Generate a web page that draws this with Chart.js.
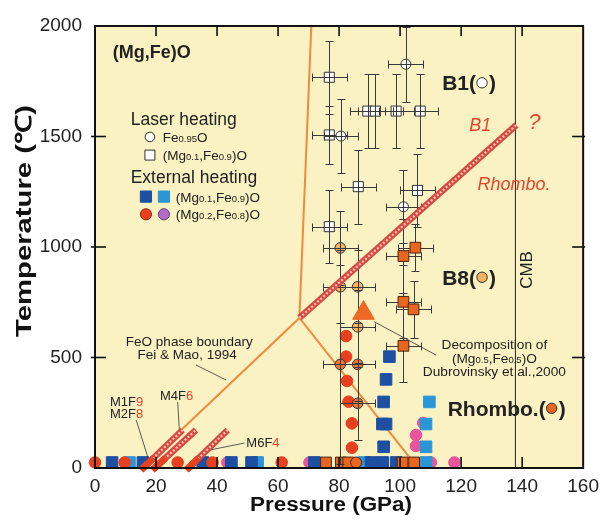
<!DOCTYPE html>
<html><head><meta charset="utf-8">
<script src="https://cdn.jsdelivr.net/npm/chart.js@4.4.0/dist/chart.umd.min.js"></script>
<style>html,body{margin:0;padding:0;background:#fff}</style>
</head><body>
<canvas id="c" width="606" height="523"></canvas>
<script>
const FONT = '"Liberation Sans", Arial, Helvetica, sans-serif';

// ---------------- data ----------------
const pressureTicks = [0, 20, 40, 60, 80, 100, 120, 140, 160];
const temperatureTicks = [0, 500, 1000, 1500, 2000];

// Laser heating, Fe0.95O (B1, open circles)
const feoLaserP = [101.9, 80.6, 101.1];
const feoLaserT = [1827, 1502, 1182];
const feoLaserErrP = [5.7, 5.5, 5.7];
const feoLaserErrT = [170, 168, 166];

// Laser heating, (Mg0.1,Fe0.9)O (open squares)
const mgfeLaserP = [76.8, 76.8, 89.4, 91.9, 98.7, 106.6, 86.3, 105.7, 76.8];
const mgfeLaserT = [1768, 1507, 1615, 1615, 1615, 1615, 1273, 1256, 1092];
const mgfeLaserErrP = [5.7, 5.7, 5.7, 5.7, 5.7, 5.7, 5.7, 5.7, 5.7];
const mgfeLaserErrT = [165, 131, 167, 167, 167, 167, 167, 166, 165];

// B8 observations (light orange circles)
const b8P = [80.4, 80.4, 86.1, 86.1];
const b8T = [996, 820, 820, 639];
const b8ErrP = [5.8, 5.8, 5.8, 5.8];
const b8ErrT = [166, 166, 166, 166];

// Rhombohedral observations, circles with error bars
const rhCircP = [80.4, 86.1, 86.1];
const rhCircT = [469, 469, 293];
const rhCircErrP = [5.8, 5.8, 5.8];
const rhCircErrT = [450, 166, 166];

// Rhombohedral observations, squares with error bars
const rhSqP = [105.0, 101.1, 101.1, 104.4, 101.1];
const rhSqT = [997, 959, 752, 718, 553];
const rhSqErrP = [5.7, 5.7, 5.7, 5.7, 5.7];
const rhSqErrT = [105, 166, 166, 130, 166];

// Rhombohedral at room temperature
const rhAmbSqP = [75.7, 80.6, 83.0, 100.8, 104.6];
const rhAmbSqT = [25, 25, 25, 25, 25];
const rhAmbCircP = [85.6];
const rhAmbCircT = [25];

// External heating (Mg0.1,Fe0.9)O
const extDarkBlueP = [96.5, 95.4, 94.6, 95.4, 94.2, 94.6, 5.6, 15.7, 35.3, 44.7, 51.3, 71.9, 90.5, 94.3, 98.7];
const extDarkBlueT = [504, 401, 299, 199, 199, 96, 25, 25, 25, 25, 25, 25, 25, 25, 25];
const extLightBlueP = [109.6, 108.5, 108.5, 11.3, 53.3, 88.3, 108.5];
const extLightBlueT = [299, 199, 96, 25, 25, 25, 25];
// External heating (Mg0.2,Fe0.8)O
const extRedP = [82.3, 82.3, 82.6, 83.1, 84.2, 84.2, 0, 9.7, 27.1, 38.5, 61.2];
const extRedT = [597, 504, 394, 300, 202, 92, 25, 25, 25, 25, 25];
const extPinkP = [107.6, 105.2, 105.2, 43.4, 70.3, 110.1, 117.8];
const extPinkT = [204, 149, 100, 25, 25, 25, 25];

// Decomposition of (Mg0.5,Fe0.5)O, Dubrovinsky et al. 2000
const decompP = [88.0];
const decompT = [701];

// FeO phase boundary, Fei & Mao 1994
const feoBoundP = [70.9, 67.0, 15.1];
const feoBoundT = [2000, 679, 0];
const feoBound2P = [67.0, 104.7];
const feoBound2T = [679, 20];
// B1 / Rhombo boundary
const b1RhP = [67.0, 138.1];
const b1RhT = [679, 1552];
// CMB
const cmbP = [137.8, 137.8];
const cmbT = [0, 2000];
// short boundaries M1F9/M2F8, M4F6, M6F4
const lineAP = [15.1, 28.7], lineAT = [-9, 172];
const lineBP = [18.8, 33.1], lineBT = [-9, 172];
const lineCP = [29.9, 43.5], lineCT = [-9, 172];
const lineASolidP = [15.1, 19.2], lineASolidT = [-9, 45];
const lineBSolidP = [18.8, 23.1], lineBSolidT = [-9, 45];
const lineCSolidP = [29.9, 34.0], lineCSolidT = [-9, 45];

// leader lines for labels
const feoLeaderP = [33.1, 43.0], feoLeaderT = [466, 398];
const decompLeaderP = [91.5, 111.8], decompLeaderT = [662, 511];
const m1LeaderP = [13.5, 17.9], m1LeaderT = [217, 23];
const m4LeaderP = [27.1, 27.7], m4LeaderT = [299, 158];
const m6LeaderP = [49.0, 37.5], m6LeaderT = [113, 81];

// ---------------- helpers ----------------
const pts = (xs, ys) => xs.map((v, i) => ({x: v, y: ys[i]}));

const C = {
  bg: '#faf2c2', darkBlue: '#1d4fa2', lightBlue: '#2b96d6', red: '#e8401e',
  pink: '#e8559c', purple: '#b36cc6', orange: '#e8661f', lightOrange: '#f5b462',
  midOrange: '#e87634', boundary: '#f08a3c', hatch: '#d64a42', hatchDot: '#f7c9bb',
  text: '#222', redText: '#e8432c'
};

function scat(label, xs, ys, o) {
  return Object.assign({label, data: pts(xs, ys), showLine: false, borderWidth: 1,
    pointBorderWidth: 1, clip: false}, o);
}
function line(label, xs, ys, o) {
  return Object.assign({label, data: pts(xs, ys), showLine: true, pointRadius: 0,
    fill: false, tension: 0}, o);
}

const datasets = [
  // on top: hatched boundaries
  line('B1/Rhombo', b1RhP, b1RhT, {borderColor: C.hatchDot, borderWidth: 2.2, borderDash: [2, 2], order: 1}),
  line('B1/Rhombo base', b1RhP, b1RhT, {borderColor: C.hatch, borderWidth: 6.5, order: 2}),
  line('A', lineAP, lineAT, {borderColor: C.hatchDot, borderWidth: 2.2, borderDash: [2, 2], order: 1, clip: false}),
  line('A base', lineAP, lineAT, {borderColor: C.hatch, borderWidth: 6.5, order: 2, clip: false}),
  line('B', lineBP, lineBT, {borderColor: C.hatchDot, borderWidth: 2.2, borderDash: [2, 2], order: 1, clip: false}),
  line('B base', lineBP, lineBT, {borderColor: C.hatch, borderWidth: 6.5, order: 2, clip: false}),
  line('C', lineCP, lineCT, {borderColor: C.hatchDot, borderWidth: 2.2, borderDash: [2, 2], order: 1, clip: false}),
  line('C base', lineCP, lineCT, {borderColor: C.hatch, borderWidth: 6.5, order: 2, clip: false}),
  line('A solid', lineASolidP, lineASolidT, {borderColor: C.red, borderWidth: 7, order: 0, clip: false}),
  line('B solid', lineBSolidP, lineBSolidT, {borderColor: C.red, borderWidth: 7, order: 0, clip: false}),
  line('C solid', lineCSolidP, lineCSolidT, {borderColor: C.red, borderWidth: 7, order: 0, clip: false}),
  // leader lines
  line('feo leader', feoLeaderP, feoLeaderT, {borderColor: '#333', borderWidth: 0.8, order: 3}),
  line('decomp leader', decompLeaderP, decompLeaderT, {borderColor: '#333', borderWidth: 0.8, order: 3}),
  line('m1 leader', m1LeaderP, m1LeaderT, {borderColor: '#333', borderWidth: 0.8, order: 3}),
  line('m4 leader', m4LeaderP, m4LeaderT, {borderColor: '#333', borderWidth: 0.8, order: 3}),
  line('m6 leader', m6LeaderP, m6LeaderT, {borderColor: '#333', borderWidth: 0.8, order: 3}),
  // decomposition triangle
  scat('decomposition', decompP, decompT, {pointStyle: 'triangle', pointRadius: 12.5,
    backgroundColor: '#ec6a24', borderColor: '#ec6a24', order: 5}),
  // laser heating (error bars on top)
  scat('Fe0.95O laser', feoLaserP, feoLaserT, {pointStyle: 'circle', pointRadius: 5,
    backgroundColor: '#fff', borderColor: '#333', errX: feoLaserErrP, errY: feoLaserErrT, errMode: 'over', order: 10}),
  scat('(Mg0.1,Fe0.9)O laser', mgfeLaserP, mgfeLaserT, {pointStyle: 'rect', pointRadius: 7.1,
    backgroundColor: '#fff', borderColor: '#333', errX: mgfeLaserErrP, errY: mgfeLaserErrT, errMode: 'over', order: 11}),
  scat('B8', b8P, b8T, {pointStyle: 'circle', pointRadius: 5.3,
    backgroundColor: C.lightOrange, borderColor: '#333', errX: b8ErrP, errY: b8ErrT, errMode: 'over', order: 12}),
  scat('Rhombo circ', rhCircP, rhCircT, {pointStyle: 'circle', pointRadius: 5.3,
    backgroundColor: C.midOrange, borderColor: '#333', errX: rhCircErrP, errY: rhCircErrT, errMode: 'over', order: 13}),
  scat('Rhombo sq', rhSqP, rhSqT, {pointStyle: 'rect', pointRadius: 7.6,
    backgroundColor: C.orange, borderColor: '#4a2410', errX: rhSqErrP, errY: rhSqErrT, errMode: 'under', order: 14}),
  scat('Rhombo amb sq', rhAmbSqP, rhAmbSqT, {pointStyle: 'rect', pointRadius: 7.6,
    backgroundColor: C.orange, borderColor: '#4a2410', order: 15}),
  scat('Rhombo amb circ', rhAmbCircP, rhAmbCircT, {pointStyle: 'circle', pointRadius: 5.5,
    backgroundColor: C.orange, borderColor: '#4a2410', order: 14}),
  // external heating
  scat('ext pink', extPinkP, extPinkT, {pointStyle: 'circle', pointRadius: 5.8,
    backgroundColor: C.pink, borderColor: C.pink, order: 22}),
  scat('ext light blue', extLightBlueP, extLightBlueT, {pointStyle: 'rect', pointRadius: 8.2,
    backgroundColor: C.lightBlue, borderColor: C.lightBlue, order: 21}),
  scat('ext dark blue', extDarkBlueP, extDarkBlueT, {pointStyle: 'rect', pointRadius: 8.2,
    backgroundColor: C.darkBlue, borderColor: C.darkBlue, order: 20}),
  scat('ext red', extRedP, extRedT, {pointStyle: 'circle', pointRadius: 5.8,
    backgroundColor: C.red, borderColor: C.red, order: 19}),
  // boundaries underneath
  line('FeO boundary', feoBoundP, feoBoundT, {borderColor: C.boundary, borderWidth: 2, order: 30}),
  line('FeO boundary 2', feoBound2P, feoBound2T, {borderColor: C.boundary, borderWidth: 2, order: 30}),
  line('CMB', cmbP, cmbT, {borderColor: '#222', borderWidth: 1, order: 31})
];

// ---------------- plugins ----------------
function drawErr(chart, i, when) {
  const ds = chart.data.datasets[i];
  if (!ds.errX && !ds.errY) return;
  if ((ds.errMode || 'over') !== when) return;
  const ctx = chart.ctx, xs = chart.scales.x, ys = chart.scales.y, a = chart.chartArea;
  ctx.save();
  ctx.beginPath(); ctx.rect(a.left, a.top, a.right - a.left, a.bottom - a.top); ctx.clip();
  ctx.strokeStyle = '#3a3a3a'; ctx.lineWidth = 1;
  ds.data.forEach((p, j) => {
    const cx = Math.round(xs.getPixelForValue(p.x)) + 0.5, cy = Math.round(ys.getPixelForValue(p.y)) + 0.5;
    const ex = ds.errX ? ds.errX[j] : 0, ey = ds.errY ? ds.errY[j] : 0;
    ctx.beginPath();
    if (ex) {
      const l = Math.round(xs.getPixelForValue(p.x - ex)) + 0.5, r = Math.round(xs.getPixelForValue(p.x + ex)) + 0.5;
      ctx.moveTo(l, cy); ctx.lineTo(r, cy);
      ctx.moveTo(l, cy - 4); ctx.lineTo(l, cy + 4);
      ctx.moveTo(r, cy - 4); ctx.lineTo(r, cy + 4);
    }
    if (ey) {
      const t = Math.round(ys.getPixelForValue(p.y + ey)) + 0.5, b = Math.round(ys.getPixelForValue(p.y - ey)) + 0.5;
      ctx.moveTo(cx, t); ctx.lineTo(cx, b);
      ctx.moveTo(cx - 4, t); ctx.lineTo(cx + 4, t);
      ctx.moveTo(cx - 4, b); ctx.lineTo(cx + 4, b);
    }
    ctx.stroke();
  });
  ctx.restore();
}
const errPlugin = {
  id: 'errbars',
  beforeDatasetDraw(chart, args) { drawErr(chart, args.index, 'under'); },
  afterDatasetDraw(chart, args) { drawErr(chart, args.index, 'over'); }
};

const bgPlugin = {
  id: 'bg',
  beforeDraw(chart) {
    const {ctx, chartArea: a} = chart;
    ctx.save(); ctx.fillStyle = C.bg;
    ctx.fillRect(a.left, a.top, a.right - a.left, a.bottom - a.top);
    ctx.restore();
  }
};

function rich(ctx, x, y, parts, align) {
  let w = 0;
  parts.forEach(p => { ctx.font = p[1]; w += ctx.measureText(p[0]).width; });
  let cx = align === 'center' ? x - w / 2 : (align === 'right' ? x - w : x);
  ctx.textAlign = 'left'; ctx.textBaseline = 'alphabetic';
  parts.forEach(p => { ctx.font = p[1]; ctx.fillStyle = p[2] || C.text; ctx.fillText(p[0], cx, y); cx += ctx.measureText(p[0]).width; });
  return cx;
}
function marker(ctx, kind, x, y, s, fill, stroke) {
  ctx.save(); ctx.fillStyle = fill; ctx.strokeStyle = stroke || fill; ctx.lineWidth = 1;
  ctx.beginPath();
  if (kind === 'circle') ctx.arc(x, y, s, 0, Math.PI * 2); else ctx.rect(x - s, y - s, 2 * s, 2 * s);
  ctx.fill(); ctx.stroke(); ctx.restore();
}

const textPlugin = {
  id: 'texts',
  afterDatasetsDraw(chart) {
    const {ctx, chartArea: a, scales: {x: xs, y: ys}} = chart;
    const X = v => xs.getPixelForValue(v), Y = v => ys.getPixelForValue(v);
    const f = (s, w) => (w || '') + ' ' + s + 'px ' + FONT;
    ctx.save();
    // title / legend block
    rich(ctx, X(5.8), Y(1884) + 6.5, [['(Mg,Fe)O', f(18, 'bold')]]);
    rich(ctx, X(11.7), Y(1579) + 6.3, [['Laser heating', f(17.5)]]);
    marker(ctx, 'circle', X(18.0), Y(1498), 4.8, '#fff', '#333');
    rich(ctx, X(22.2), Y(1498) + 4.9, [['Fe', f(13.5)], ['0.95', f(9.5)], ['O', f(13.5)]]);
    marker(ctx, 'rect', X(18.0), Y(1416), 5, '#fff', '#333');
    rich(ctx, X(22.2), Y(1416) + 4.9, [['(Mg', f(13.5)], ['0.1', f(9.5)], [',Fe', f(13.5)], ['0.9', f(9.5)], [')O', f(13.5)]]);
    rich(ctx, X(11.7), Y(1318) + 6.3, [['External heating', f(17.5)]]);
    marker(ctx, 'rect', X(16.7), Y(1228), 5.6, C.darkBlue);
    marker(ctx, 'rect', X(22.6), Y(1228), 5.6, C.lightBlue);
    rich(ctx, X(26.5), Y(1228) + 4.9, [['(Mg', f(13.5)], ['0.1', f(9.5)], [',Fe', f(13.5)], ['0.9', f(9.5)], [')O', f(13.5)]]);
    marker(ctx, 'circle', X(16.7), Y(1148), 5.6, C.red, '#8a2a10');
    marker(ctx, 'circle', X(22.6), Y(1148), 5.6, C.purple, '#6a3a78');
    rich(ctx, X(26.5), Y(1148) + 4.9, [['(Mg', f(13.5)], ['0.2', f(9.5)], [',Fe', f(13.5)], ['0.8', f(9.5)], [')O', f(13.5)]]);

    // phase labels on the right
    let e = rich(ctx, X(113.8), Y(1743) + 7.5, [['B1(', f(21, 'bold')]]);
    marker(ctx, 'circle', e + 6, Y(1743), 5.2, '#fff', '#333');
    rich(ctx, e + 13, Y(1743) + 7.5, [[')', f(21, 'bold')]]);
    e = rich(ctx, X(113.8), Y(863) + 7.5, [['B8(', f(21, 'bold')]]);
    marker(ctx, 'circle', e + 6, Y(863), 5.2, C.lightOrange, '#333');
    rich(ctx, e + 13, Y(863) + 7.5, [[')', f(21, 'bold')]]);
    e = rich(ctx, X(115.6), Y(270) + 7.5, [['Rhombo.(', f(21, 'bold')]]);
    marker(ctx, 'circle', e + 6, Y(270), 5.2, C.orange, '#333');
    rich(ctx, e + 13, Y(270) + 7.5, [[')', f(21, 'bold')]]);

    rich(ctx, X(122.7), Y(1552) + 6.4, [['B1', f(18, 'italic'), C.redText]]);
    rich(ctx, X(144.0), Y(1567) + 7.8, [['?', f(22, 'italic'), C.redText]], 'center');
    rich(ctx, X(125.4), Y(1285) + 6.4, [['Rhombo.', f(18, 'italic'), C.redText]]);

    // CMB
    ctx.save();
    ctx.translate(X(141.8), Y(896)); ctx.rotate(-Math.PI / 2);
    ctx.font = f(17); ctx.fillStyle = C.text; ctx.textAlign = 'center'; ctx.textBaseline = 'middle';
    ctx.fillText('CMB', 0, 0);
    ctx.restore();

    // decomposition note
    rich(ctx, X(130.9), Y(561) + 5, [['Decomposition of', f(13.7)]], 'center');
    rich(ctx, X(130.9), Y(496) + 5, [['(Mg', f(13.7)], ['0.5', f(9.5)], [',Fe', f(13.7)], ['0.5', f(9.5)], [')O', f(13.7)]], 'center');
    rich(ctx, X(130.9), Y(440) + 5, [['Dubrovinsky et al.,2000', f(13.7)]], 'center');

    // FeO boundary note
    rich(ctx, X(30.9), Y(576) + 4.8, [['FeO phase boundary', f(13.5)]], 'center');
    rich(ctx, X(30.2), Y(516) + 4.8, [['Fei & Mao, 1994', f(13.5)]], 'center');

    // composition labels
    rich(ctx, X(4.9), Y(303) + 4.7, [['M1F', f(13)], ['9', f(13), C.redText]]);
    rich(ctx, X(4.9), Y(249) + 4.7, [['M2F', f(13)], ['8', f(13), C.redText]]);
    rich(ctx, X(21.3), Y(330) + 4.7, [['M4F', f(13)], ['6', f(13), C.redText]]);
    rich(ctx, X(49.6), Y(118) + 4.7, [['M6F', f(13)], ['4', f(13), C.redText]]);
    ctx.restore();
  }
};

const framePlugin = {
  id: 'frame',
  afterDraw(chart) {
    const {ctx, chartArea: a, scales: {x: xs, y: ys}} = chart;
    ctx.save();
    ctx.strokeStyle = '#111'; ctx.lineWidth = 1.6;
    const seg = (x1, y1, x2, y2) => { ctx.beginPath(); ctx.moveTo(x1, y1); ctx.lineTo(x2, y2); ctx.stroke(); };
    pressureTicks.forEach(v => {
      if (v === pressureTicks[0] || v === pressureTicks[pressureTicks.length - 1]) return;
      const p = xs.getPixelForValue(v);
      seg(p, a.bottom, p, a.bottom - 11); seg(p, a.top, p, a.top + 10);
    });
    temperatureTicks.forEach(v => {
      if (v === temperatureTicks[0] || v === temperatureTicks[temperatureTicks.length - 1]) return;
      const p = ys.getPixelForValue(v);
      seg(a.left - 4, p, a.left + 11, p); seg(a.right - 11, p, a.right + 2, p);
    });
    ctx.lineWidth = 2;
    ctx.strokeRect(a.left, a.top, a.right - a.left, a.bottom - a.top);

    // axis titles (wide lettering as in the figure)
    ctx.fillStyle = '#111'; ctx.textAlign = 'center'; ctx.textBaseline = 'middle';
    ctx.save();
    ctx.translate(a.left + 236, 506); ctx.scale(1.15, 1);
    ctx.font = 'bold 19.5px ' + FONT; ctx.fillText('Pressure (GPa)', 0, 0);
    ctx.restore();
    ctx.save();
    ctx.translate(25, a.top + 195); ctx.rotate(-Math.PI / 2); ctx.scale(1.33, 1);
    ctx.font = 'bold 22px ' + FONT; ctx.fillText('Temperature (℃)', 0, 0);
    ctx.restore();
    ctx.restore();
  }
};

new Chart(document.getElementById('c'), {
  type: 'scatter',
  data: {datasets},
  options: {
    responsive: false, animation: false, devicePixelRatio: 1,
    layout: {padding: {top: 26, right: 22, left: 0, bottom: 0}},
    plugins: {legend: {display: false}, tooltip: {enabled: false}},
    scales: {
      x: {
        type: 'linear', min: 0, max: 160,
        afterBuildTicks: s => { s.ticks = pressureTicks.map(v => ({value: v})); },
        afterFit: s => { s.height = 55; },
        grid: {display: false, drawTicks: false}, border: {display: false},
        ticks: {padding: 7, color: '#222', font: {family: FONT, size: 19}, maxRotation: 0,
          callback: v => String(v)}
      },
      y: {
        type: 'linear', min: 0, max: 2000,
        afterBuildTicks: s => { s.ticks = temperatureTicks.map(v => ({value: v})); },
        afterFit: s => { s.width = 95; },
        grid: {display: false, drawTicks: false}, border: {display: false},
        ticks: {padding: 13, color: '#222', font: {family: FONT, size: 19},
          callback: v => String(v)}
      }
    }
  },
  plugins: [bgPlugin, errPlugin, textPlugin, framePlugin]
});
</script>
</body></html>
